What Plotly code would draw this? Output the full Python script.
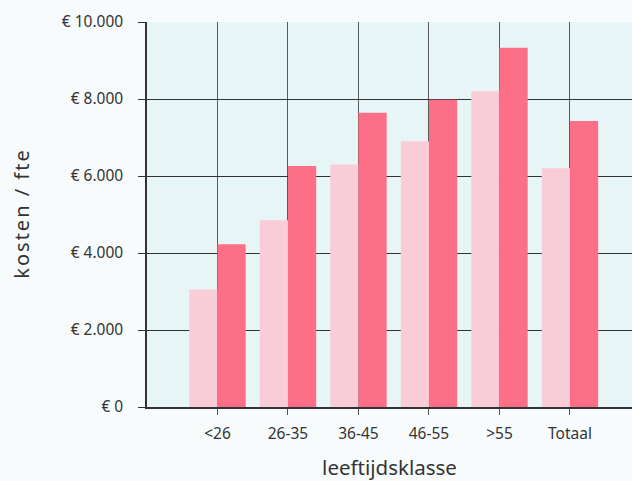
import plotly.graph_objects as go

categories = ["<26", "26-35", "36-45", "46-55", ">55", "Totaal"]
series_light = [3050, 4850, 6300, 6900, 8200, 6200]
series_dark = [4230, 6260, 7640, 7980, 9330, 7430]
ytick_vals = [0, 2000, 4000, 6000, 8000, 10000]
ytick_text = ["€ 0", "€ 2.000", "€ 4.000", "€ 6.000", "€ 8.000", "€ 10.000"]
y_title = "\u200a".join("kosten / fte")

fig = go.Figure()
fig.add_trace(go.Bar(x=categories, y=series_light, marker=dict(color="#f9cdd8", line=dict(width=0)),
                     name="reeks 1", showlegend=False))
fig.add_trace(go.Bar(x=categories, y=series_dark, marker=dict(color="#fd6f87", line=dict(width=0)),
                     name="reeks 2", showlegend=False))

font_family = "'Noto Sans', sans-serif"
fig.update_layout(
    width=632, height=481,
    margin=dict(l=147, r=0, t=22, b=74),
    paper_bgcolor="#f8fbfc",
    plot_bgcolor="#e8f5f6",
    barmode="group",
    bargap=0.2,
    bargroupgap=0,
    font=dict(family=font_family, color="#333333", size=15),
    xaxis=dict(
        type="category",
        range=[-1, 5.88],
        showgrid=True, gridcolor="#5a5a5a", gridwidth=1,
        showline=True, linecolor="#333333", linewidth=1.5,
        ticks="outside", ticklen=6, tickcolor="#555555",
        ticklabelstandoff=6,
        tickfont=dict(size=15.5),
        title=dict(text="leeftijdsklasse", font=dict(size=20.5), standoff=21),
        zeroline=False,
    ),
    yaxis=dict(
        range=[0, 10000],
        tickvals=ytick_vals, ticktext=ytick_text,
        showgrid=True, gridcolor="#333333", gridwidth=1,
        showline=True, linecolor="#333333", linewidth=1.5,
        ticks="outside", ticklen=7, tickcolor="#333333",
        ticklabelstandoff=12,
        tickfont=dict(size=15.5),
        title=dict(text=y_title, font=dict(size=20), standoff=27),
        zeroline=False,
    ),
)

fig.write_html("out.html", config={"displayModeBar": False},
               post_script="document.body.style.margin='0';")
